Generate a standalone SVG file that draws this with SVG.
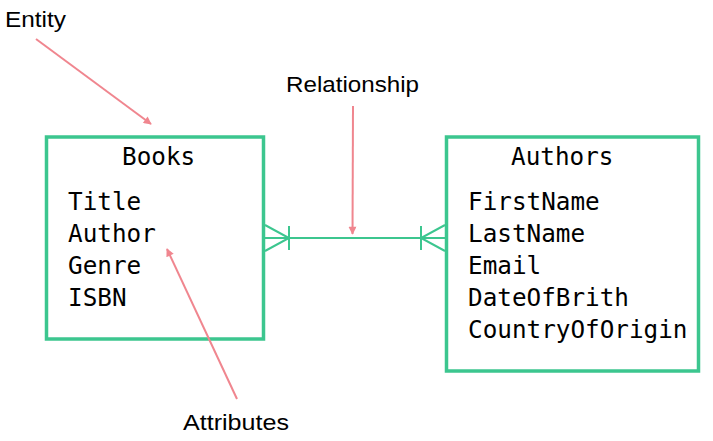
<svg xmlns="http://www.w3.org/2000/svg" width="713" height="441" viewBox="0 0 713 441">
<defs>
<style>
.box{fill:#fff;stroke:#3CC68F;stroke-width:3.5}
.mono{font-family:"DejaVu Sans Mono","Liberation Mono",monospace;font-size:24.3px;fill:#000}
.lbl{font-family:"Liberation Sans",Arial,sans-serif;font-size:22px;fill:#000}
.rel{stroke:#3CC68F;stroke-width:2;fill:none}
.ann{stroke:#F0868F;stroke-width:2;fill:none}
</style>
<marker id="ah" viewBox="0 0 10 10" refX="9" refY="5" markerWidth="9" markerHeight="8" orient="auto" markerUnits="userSpaceOnUse">
<path d="M0,0 L10,5 L0,10 z" fill="#F0868F"/>
</marker>
</defs>
<rect width="713" height="441" fill="#fff"/>
<g id="books">
<rect class="box" x="46.5" y="137" width="217" height="202"/>
<text class="mono" x="122" y="165">Books</text>
<text class="mono" x="68" y="210">Title</text>
<text class="mono" x="68" y="242">Author</text>
<text class="mono" x="68" y="274">Genre</text>
<text class="mono" x="68" y="306">ISBN</text>
</g>
<g id="authors">
<rect class="box" x="446.5" y="137" width="252" height="234"/>
<text class="mono" x="511" y="165">Authors</text>
<text class="mono" x="468" y="210">FirstName</text>
<text class="mono" x="468" y="242">LastName</text>
<text class="mono" x="468" y="274">Email</text>
<text class="mono" x="468" y="306">DateOfBrith</text>
<text class="mono" x="468" y="338">CountryOfOrigin</text>
</g>
<g id="connectors">
<path class="rel" d="M265,238 H445"/>
<path class="rel" d="M289,226 V250 M265,225 L289,238 L265,251"/>
<path class="rel" d="M421,226 V250 M445,225 L421,238 L445,251"/>
<path class="ann" d="M36,39 L151,124" marker-end="url(#ah)"/>
<path class="ann" d="M353,106 L352.5,234" marker-end="url(#ah)"/>
<path class="ann" d="M237,399 L167,249" marker-end="url(#ah)"/>
</g>
<g id="labels">
<text class="lbl" x="5" y="27" textLength="61" lengthAdjust="spacingAndGlyphs">Entity</text>
<text class="lbl" x="286" y="92" textLength="133" lengthAdjust="spacingAndGlyphs">Relationship</text>
<text class="lbl" x="183" y="430" textLength="106" lengthAdjust="spacingAndGlyphs">Attributes</text>
</g>
</svg>
